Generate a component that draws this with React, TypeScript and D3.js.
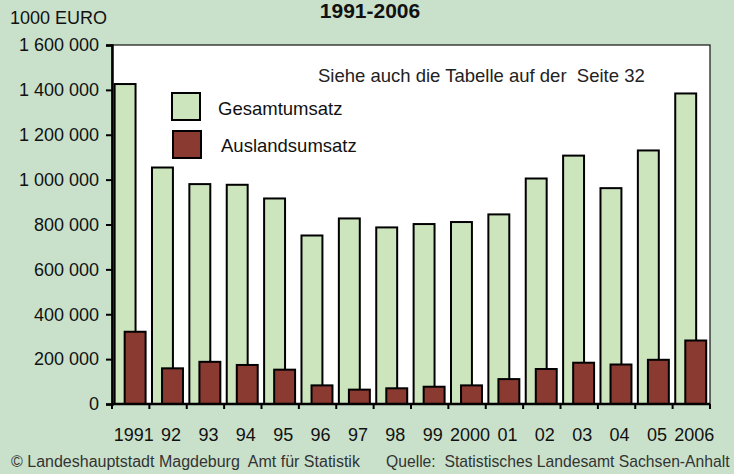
import React, { useRef, useEffect } from "react";
import * as d3 from "d3";

const years = ["1991", "92", "93", "94", "95", "96", "97", "98", "99", "2000", "01", "02", "03", "04", "05", "2006"];
const gesamtumsatz = [1426000, 1054000, 980000, 977000, 916000, 751000, 827000, 787000, 802000, 811000, 845000, 1005000, 1107000, 962000, 1130000, 1384000];
const auslandsumsatz = [322000, 159000, 188000, 174000, 153000, 83000, 64000, 70000, 77000, 83000, 111000, 156000, 184000, 176000, 197000, 283000];
const yTicks = [0, 200000, 400000, 600000, 800000, 1000000, 1200000, 1400000, 1600000];
const legendLabels = ["Gesamtumsatz", "Auslandsumsatz"];

const fmt = (v: number) => (v === 0 ? "0" : d3.format(",")(v).replace(/,/g, " "));

const App = () => {
  const svgRef = useRef<SVGSVGElement>(null);

  useEffect(() => {
    const width = 734;
    const height = 474;
    const margin = { top: 45, right: 24, bottom: 70, left: 112 };
    const font = "'Liberation Sans', Arial, sans-serif";
    const green = "#cde5bd";
    const red = "#8a3a31";

    const svg = d3.select(svgRef.current).attr("width", width).attr("height", height);
    svg.selectAll("*").remove();

    svg.append("rect").attr("width", width).attr("height", height).attr("fill", "#c9e1ca");

    const x = d3
      .scaleBand()
      .domain(years)
      .range([margin.left, width - margin.right])
      .padding(0);

    const y = d3
      .scaleLinear()
      .domain([0, 1600000])
      .range([height - margin.bottom, margin.top]);

    // plot area
    svg
      .append("rect")
      .attr("x", margin.left)
      .attr("y", margin.top)
      .attr("width", width - margin.right - margin.left)
      .attr("height", height - margin.bottom - margin.top)
      .attr("fill", "#fff")
      .attr("stroke", "#111")
      .attr("stroke-width", 1.2);

    const bw = x.bandwidth();
    const barW = bw * 0.56;
    const off = bw * 0.07;

    svg
      .append("g")
      .selectAll("rect")
      .data(gesamtumsatz)
      .join("rect")
      .attr("x", (_, i) => x(years[i])! + off)
      .attr("y", (d) => y(d))
      .attr("width", barW)
      .attr("height", (d) => y(0) - y(d))
      .attr("fill", green)
      .attr("stroke", "#000")
      .attr("stroke-width", 2);

    svg
      .append("g")
      .selectAll("rect")
      .data(auslandsumsatz)
      .join("rect")
      .attr("x", (_, i) => x(years[i])! + off + barW * 0.48)
      .attr("y", (d) => y(d))
      .attr("width", barW)
      .attr("height", (d) => y(0) - y(d))
      .attr("fill", red)
      .attr("stroke", "#000")
      .attr("stroke-width", 2);

    // y axis
    const yAxis = svg
      .append("g")
      .attr("transform", `translate(${margin.left},0)`)
      .call(d3.axisLeft(y).tickValues(yTicks).tickFormat((d) => fmt(+d)).tickSize(6).tickPadding(7));
    yAxis.select(".domain").attr("stroke", "#000").attr("stroke-width", 2.5);
    yAxis.selectAll(".tick line").attr("stroke", "#000").attr("stroke-width", 2);
    yAxis.selectAll("text").attr("font-family", font).attr("font-size", 18).attr("fill", "#111");

    // x axis
    const xg = svg.append("g").attr("transform", `translate(0,${y(0)})`);
    xg.append("line")
      .attr("x1", margin.left)
      .attr("x2", width - margin.right)
      .attr("stroke", "#000")
      .attr("stroke-width", 2.5);
    xg.selectAll("line.tk")
      .data([...years.map((d) => x(d)!), width - margin.right])
      .join("line")
      .attr("class", "tk")
      .attr("x1", (d) => d)
      .attr("x2", (d) => d)
      .attr("y1", 0)
      .attr("y2", 5)
      .attr("stroke", "#000")
      .attr("stroke-width", 2);
    xg.selectAll("text")
      .data(years)
      .join("text")
      .attr("x", (d) => x(d)! + bw / 2 + 3)
      .attr("y", 37)
      .attr("text-anchor", "middle")
      .attr("font-family", font)
      .attr("font-size", 18)
      .attr("fill", "#111")
      .text((d) => d);

    // titles
    svg
      .append("text")
      .attr("x", 10)
      .attr("y", 24)
      .attr("font-family", font)
      .attr("font-size", 18)
      .attr("fill", "#111")
      .text("1000 EURO");
    svg
      .append("text")
      .attr("x", 370)
      .attr("y", 18)
      .attr("text-anchor", "middle")
      .attr("font-family", font)
      .attr("font-size", 21)
      .attr("font-weight", "bold")
      .attr("fill", "#111")
      .text("1991-2006");
    svg
      .append("text")
      .attr("x", 318)
      .attr("y", 82)
      .attr("font-family", font)
      .attr("font-size", 18.5)
      .attr("fill", "#222")
      .style("white-space", "pre")
      .text("Siehe auch die Tabelle auf der  Seite 32");

    // legend
    const legend = svg.append("g");
    [green, red].forEach((c, i) => {
      legend
        .append("rect")
        .attr("x", 172 + i)
        .attr("y", 93 + i * 38)
        .attr("width", 28)
        .attr("height", 27)
        .attr("fill", c)
        .attr("stroke", "#000")
        .attr("stroke-width", 2);
      legend
        .append("text")
        .attr("x", 218 + i * 3)
        .attr("y", 115 + i * 37)
        .attr("font-family", font)
        .attr("font-size", 18.5)
        .attr("fill", "#111")
        .text(legendLabels[i]);
    });

    // footer
    svg
      .append("text")
      .attr("x", 11)
      .attr("y", 467)
      .attr("font-family", font)
      .attr("font-size", 16)
      .attr("fill", "#333")
      .style("white-space", "pre")
      .text("© Landeshauptstadt Magdeburg  Amt für Statistik");
    svg
      .append("text")
      .attr("x", 386)
      .attr("y", 467)
      .attr("font-family", font)
      .attr("font-size", 15.7)
      .attr("fill", "#333")
      .style("white-space", "pre")
      .text("Quelle:  Statistisches Landesamt Sachsen-Anhalt");
  }, []);

  return (
    <div style={{ position: "absolute", left: 0, top: 0 }}>
      <svg ref={svgRef} style={{ display: "block" }}></svg>
    </div>
  );
};

export default App;
